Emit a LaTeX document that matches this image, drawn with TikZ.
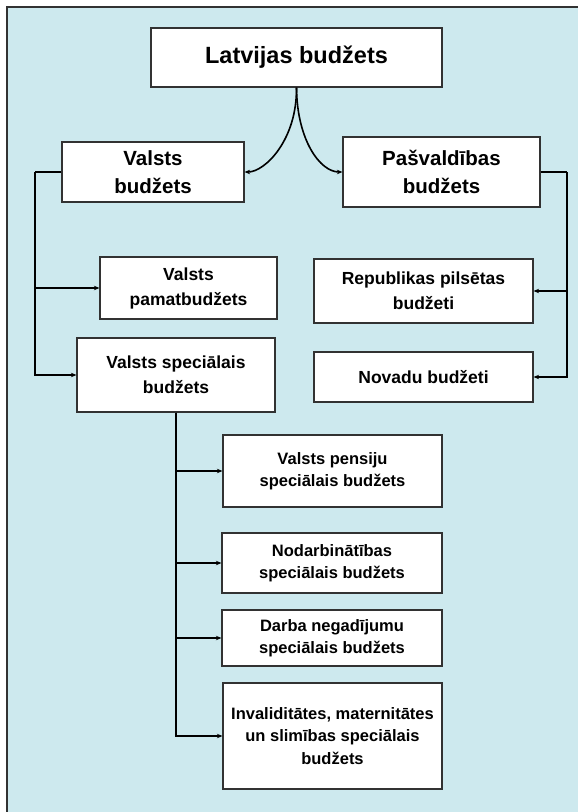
\documentclass[tikz,border=0pt]{standalone}
\usepackage{fontspec}
\setmainfont{Liberation Sans}
\usetikzlibrary{arrows.meta}
\definecolor{panel}{RGB}{205,233,238}
\definecolor{frame}{RGB}{50,50,50}
\begin{document}
\begin{tikzpicture}[x=1pt,y=-1pt,
  box/.style={draw=frame,line width=1.2pt,fill=white,inner sep=2pt,
    align=center,font=\bfseries},
  lvla/.style={font=\bfseries\fontsize{23.5}{28}\selectfont},
  lvlb/.style={font=\bfseries\fontsize{20.5}{28}\selectfont},
  lvlc/.style={font=\bfseries\fontsize{17.5}{25}\selectfont},
  lvld/.style={font=\bfseries\fontsize{16.5}{22.5}\selectfont},
  link/.style={line width=2pt,black},
  arr/.style={link,-{Stealth[length=5.5pt,width=4.5pt]}}]
% page and background panel
\useasboundingbox (0,0) rectangle (578,812);
\fill[panel] (7,7) rectangle (600,830);
\draw[frame,line width=1.5pt] (7,830) -- (7,7) -- (600,7);

% top level
\node[box,lvla,minimum width=291pt,minimum height=59pt] (top) at (296.5,57.5) {Latvijas budžets};

% second level
\node[box,lvlb,minimum width=182pt,minimum height=60pt] (vb) at (153,172) {Valsts\\budžets};
\node[box,lvlb,minimum width=197pt,minimum height=70pt] (pb) at (441.5,172) {Pašvaldības\\budžets};

% state budget branch
\node[box,lvlc,minimum width=177pt,minimum height=62pt] (vpb) at (188.5,288) {Valsts\\pamatbudžets};
\node[box,lvlc,minimum width=198pt,minimum height=74pt] (vsb) at (176,375) {Valsts speciālais\\budžets};

% municipal branch
\node[box,lvlc,minimum width=219pt,minimum height=64pt] (rpb) at (423.5,291) {Republikas pilsētas\\budžeti};
\node[box,lvlc,minimum width=219pt,minimum height=50pt] (nb) at (423.5,377) {Novadu budžeti};

% special budgets
\node[box,lvld,minimum width=219pt,minimum height=72pt] (s1) at (332.5,471) {Valsts pensiju\\speciālais budžets};
\node[box,lvld,minimum width=220pt,minimum height=60pt] (s2) at (332,563) {Nodarbinātības\\speciālais budžets};
\node[box,lvld,minimum width=220pt,minimum height=56pt] (s3) at (332,638) {Darba negadījumu\\speciālais budžets};
\node[box,lvld,minimum width=219pt,minimum height=106pt] (s4) at (332.5,736) {Invaliditātes, maternitātes\\un slimības speciālais\\budžets};

% curved links from the top box
\draw[arr,line width=1.6pt] (top.south) .. controls (297,140) and (265,172) .. (vb.east);
\draw[arr,line width=1.6pt] (top.south) .. controls (297,140) and (320,172) .. (pb.west);

% left bracket
\draw[link] (vb.west) -- (35,172) coordinate (lt);
\draw[arr] (lt) |- (vpb.west);
\draw[arr] (lt) |- (vsb.west);

% right bracket
\draw[link] (pb.east) -- (567,172) coordinate (rt);
\draw[arr] (rt) |- (rpb.east);
\draw[arr] (rt) |- (nb.east);

% special budget bracket
\draw[arr] (vsb.south) |- (s1.west);
\draw[arr] (vsb.south) |- (s2.west);
\draw[arr] (vsb.south) |- (s3.west);
\draw[arr] (vsb.south) |- (s4.west);
\end{tikzpicture}
\end{document}
